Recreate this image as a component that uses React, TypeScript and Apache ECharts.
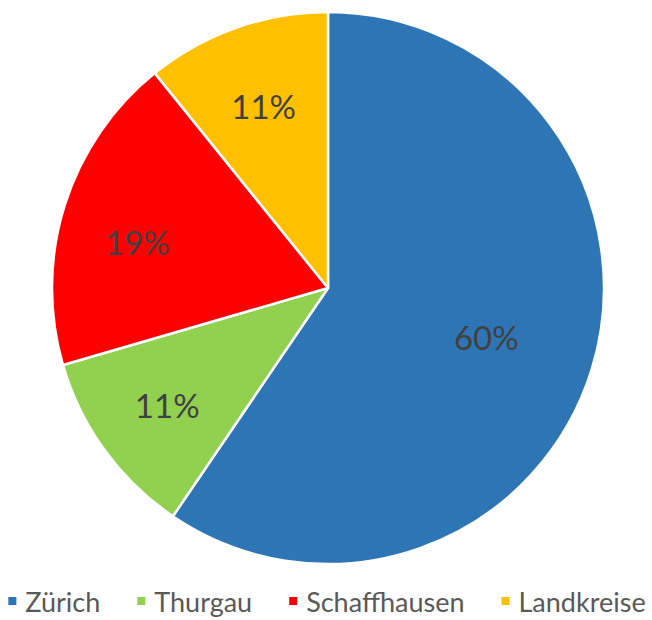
import React, { useEffect, useRef } from "react";
import * as echarts from "echarts";

const categories = ["Zürich", "Thurgau", "Schaffhausen", "Landkreise"];
const values = [59.5, 11.0, 18.7, 10.8];
const colors = ["#2E75B6", "#92D050", "#FF0000", "#FFC000"];
const labelRadiusFactor = [0.6, 0.72, 0.71, 0.7];
const labelAngleOffsetDeg = [0, 0, -4, 0];

export default function App() {
  const ref = useRef<HTMLDivElement>(null);
  useEffect(() => {
    if (!ref.current) return;
    const chart = echarts.init(ref.current, undefined, { renderer: "svg" });
    const cx = 328;
    const cy = 288;
    const R = 276;
    const total = values.reduce((a, b) => a + b, 0);
    const mids: number[] = [];
    let acc = 0;
    values.forEach((v) => {
      mids.push(((acc + v / 2) / total) * Math.PI * 2);
      acc += v;
    });
    chart.setOption({
      animation: false,
      backgroundColor: "#ffffff",
      color: colors,
      legend: {
        top: 587,
        left: "center",
        width: 652,
        padding: 0,
        icon: "rect",
        itemWidth: 10,
        itemHeight: 10,
        itemGap: 35,
        textStyle: { fontFamily: "Lato", fontSize: 27, lineHeight: 28, color: "#595959", padding: [0, 0, 0, 3] },
        data: categories,
      },
      series: [
        {
          type: "pie",
          center: [cx, cy],
          radius: R,
          startAngle: 90,
          clockwise: true,
          itemStyle: { borderColor: "#ffffff", borderWidth: 2.5 },
          label: {
            show: true,
            position: "inside",
            fontFamily: "Lato",
            fontSize: 33,
            color: "#404040",
            formatter: (p: any) => Math.round(p.percent) + "%",
          },
          labelLayout: (p: any) => {
            const i = p.dataIndex;
            const a = mids[i] + (labelAngleOffsetDeg[i] * Math.PI) / 180;
            const r = R * labelRadiusFactor[i];
            return {
              x: cx + r * Math.sin(a),
              y: cy - r * Math.cos(a),
              align: "center",
              verticalAlign: "middle",
            };
          },
          emphasis: { disabled: true },
          data: categories.map((name, i) => ({ name, value: values[i] })),
        },
      ],
    });
    return () => chart.dispose();
  }, []);
  return (
    <div
      ref={ref}
      style={{ position: "fixed", left: 0, top: 0, width: 652, height: 620 }}
    />
  );
}
